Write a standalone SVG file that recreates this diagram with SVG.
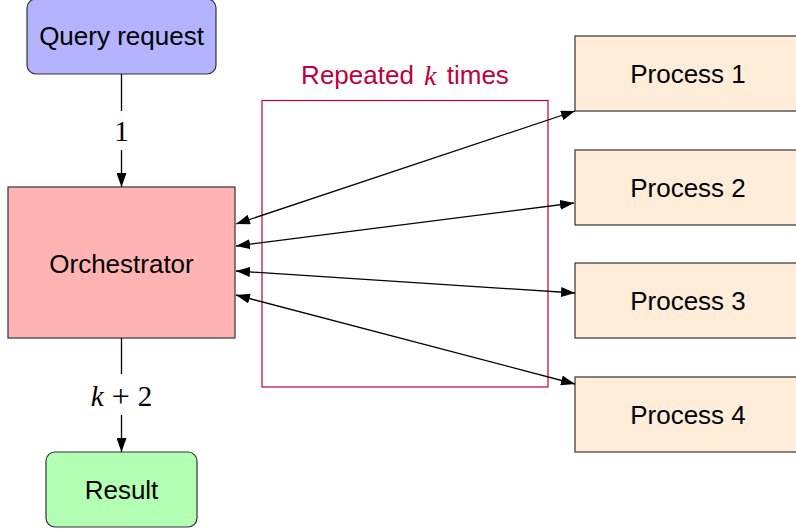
<svg xmlns="http://www.w3.org/2000/svg" width="796" height="531" viewBox="0 0 796 531">
  <defs>
    <marker id="head" viewBox="0 0 14 10" refX="14" refY="5" markerWidth="14" markerHeight="10" markerUnits="userSpaceOnUse" orient="auto-start-reverse">
      <path d="M0,0 L14,5 L0,10 Z" fill="#000"/>
    </marker>
  </defs>
  <style>
    .box { stroke: #333; stroke-width: 1.2; }
    .lbl { font-family: "Liberation Sans", Arial, sans-serif; font-size: 26px; fill: #000; text-anchor: middle; dominant-baseline: central; }
    .math { font-family: "Liberation Serif", "Times New Roman", serif; font-size: 29px; fill: #000; }
    .edge { stroke: #000; stroke-width: 1.3; fill: none; }
  </style>
  <rect width="796" height="531" fill="#fff"/>

  <!-- loop frame -->
  <g id="loop">
    <rect x="262" y="100.5" width="286" height="286.5" fill="none" stroke="#bf0040" stroke-width="1.2"/>
    <text x="405" y="75" font-family="Liberation Sans, Arial, sans-serif" font-size="26" fill="#bf0040" text-anchor="middle" dominant-baseline="central">Repeated <tspan font-family="Liberation Serif, Times New Roman, serif" font-style="italic" font-size="28" dx="3">k</tspan><tspan dx="3"> times</tspan></text>
  </g>

  <g id="query">
    <rect class="box" x="27" y="-1" width="189" height="75" rx="9" fill="#b3b3ff"/>
    <text class="lbl" x="121.5" y="36">Query request</text>
  </g>

  <g id="orchestrator">
    <rect class="box" x="8" y="187" width="227" height="151" fill="#ffb3b3"/>
    <text class="lbl" x="121.5" y="264">Orchestrator</text>
  </g>

  <g id="result">
    <rect class="box" x="46" y="452" width="151" height="75" rx="9" fill="#b3ffb3"/>
    <text class="lbl" x="121.5" y="490">Result</text>
  </g>

  <g id="process1">
    <rect class="box" x="575" y="36" width="240" height="75" fill="#ffecd9"/>
    <text class="lbl" x="688" y="74">Process 1</text>
  </g>
  <g id="process2">
    <rect class="box" x="575" y="150" width="240" height="75" fill="#ffecd9"/>
    <text class="lbl" x="688" y="188">Process 2</text>
  </g>
  <g id="process3">
    <rect class="box" x="575" y="263" width="240" height="75" fill="#ffecd9"/>
    <text class="lbl" x="688" y="301">Process 3</text>
  </g>
  <g id="process4">
    <rect class="box" x="575" y="377" width="240" height="75" fill="#ffecd9"/>
    <text class="lbl" x="688" y="415">Process 4</text>
  </g>

  <g id="connectors">
    <!-- query -> orchestrator, step 1 -->
    <line class="edge" x1="121.5" y1="74" x2="121.5" y2="111"/>
    <line class="edge" x1="121.5" y1="150" x2="121.5" y2="187" marker-end="url(#head)"/>
    <text class="math" x="121.5" y="131" text-anchor="middle" dominant-baseline="central">1</text>

    <!-- orchestrator -> result, step k+2 -->
    <line class="edge" x1="121.5" y1="338" x2="121.5" y2="374"/>
    <line class="edge" x1="121.5" y1="415" x2="121.5" y2="452" marker-end="url(#head)"/>
    <text class="math" x="121.5" y="396" text-anchor="middle" dominant-baseline="central"><tspan font-style="italic">k</tspan><tspan dx="8" font-size="32">+</tspan><tspan dx="8">2</tspan></text>

    <!-- orchestrator <-> processes -->
    <line class="edge" x1="236" y1="224" x2="575" y2="111" marker-start="url(#head)" marker-end="url(#head)"/>
    <line class="edge" x1="236" y1="246" x2="574" y2="203" marker-start="url(#head)" marker-end="url(#head)"/>
    <line class="edge" x1="236" y1="271" x2="575" y2="293" marker-start="url(#head)" marker-end="url(#head)"/>
    <line class="edge" x1="236" y1="295" x2="575" y2="384" marker-start="url(#head)" marker-end="url(#head)"/>
  </g>
</svg>
